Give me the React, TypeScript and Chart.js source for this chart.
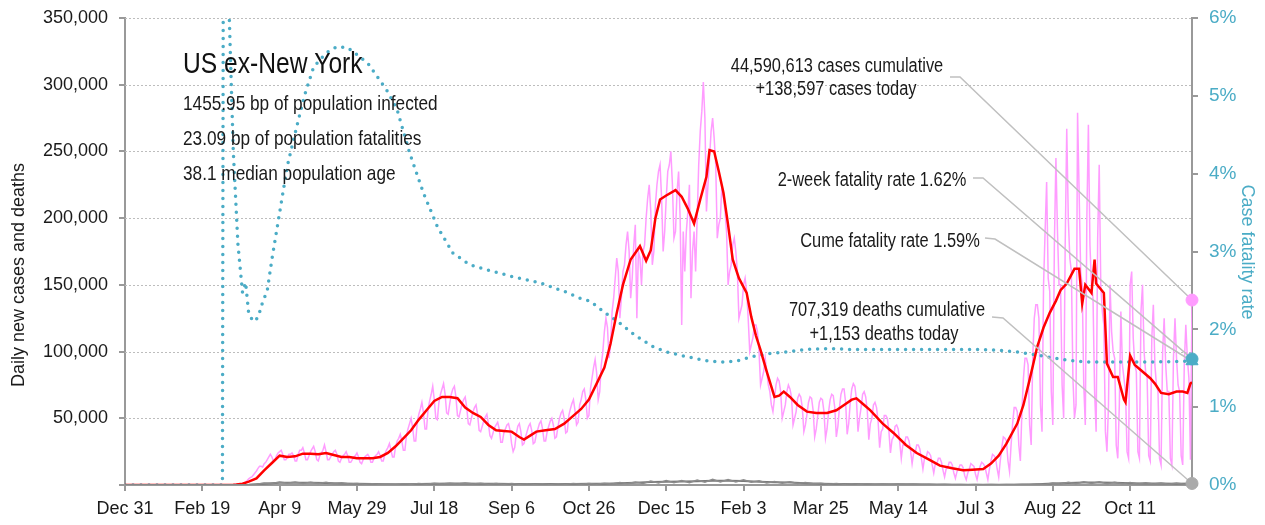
import React, { useEffect, useRef } from "react";
import { Chart, registerables } from "chart.js";

Chart.register(...registerables);

const FONT = '"Liberation Sans", Arial, sans-serif';
const NARROW = 0.82; // horizontal condensing for the headline/annotation text

// x axis: day index from Dec 31, 2019
const tickDays = [0, 50, 100, 150, 200, 250, 300, 350, 400, 450, 500, 550, 600, 650];
const tickLabels = ["Dec 31", "Feb 19", "Apr 9", "May 29", "Jul 18", "Sep 6", "Oct 26", "Dec 15", "Feb 3", "Mar 25", "May 14", "Jul 3", "Aug 22", "Oct 11"];
const yTicksStep = 50000;

// daily new cases, thousands (one row per week)
const casesDailyK = [
  0, 0, 0, 0, 0, 0, 0,
  0, 0, 0, 0, 0, 0, 0,
  0, 0, 0, 0, 0, 0, 0,
  0, 0, 0, 0, 0, 0, 0,
  0, 0, 0, 0, 0, 0, 0,
  0, 0, 0, 0, 0, 0, 0,
  0, 0, 0, 0, 0, 0, 0,
  0, 0, 0, 0, 0, 0, 0,
  0, 0, 0, 0, 0, 0, 0,
  0.02, 0.03, 0.05, 0.06, 0.08, 0.1, 0.15,
  0.2, 0.3, 0.4, 0.5, 0.7, 0.8, 1.0,
  1.5, 2.3, 3.4, 4.6, 5.5, 6, 7.5,
  9, 10.5, 12.5, 14, 14, 13.5, 16,
  17, 19, 21, 23, 21, 18, 19,
  22, 24, 25, 26, 23, 19, 19,
  21, 23, 23, 24, 22, 18, 18,
  23, 26, 26, 28, 24, 19, 19,
  22, 25, 27, 29, 25, 19, 18,
  22, 24, 26, 30, 25, 19, 19,
  21, 23, 25, 26, 23, 18, 17,
  20, 22, 23, 25, 22, 17, 17,
  19, 21, 22, 24, 21, 17, 16,
  19, 21, 22, 23, 21, 17, 17,
  20, 22, 23, 25, 22, 18, 18,
  23, 26, 28, 31, 26, 21, 21,
  29, 33, 35, 38, 33, 26, 26,
  37, 42, 46, 50, 43, 33, 33,
  47, 53, 57, 62, 54, 42, 42,
  57, 63, 68, 74, 64, 50, 49,
  62, 68, 72, 76, 68, 54, 53,
  61, 68, 72, 74, 66, 52, 51,
  56, 61, 64, 66, 58, 46, 45,
  50, 55, 58, 60, 53, 41, 40,
  44, 48, 51, 53, 46, 37, 35,
  39, 43, 45, 47, 42, 32, 32,
  39, 42, 45, 46, 41, 31, 25,
  28, 38, 44, 46, 40, 30, 31,
  36, 40, 44, 46, 41, 31, 32,
  38, 42, 46, 48, 42, 33, 33,
  40, 44, 48, 50, 45, 35, 36,
  44, 50, 54, 56, 50, 39, 40,
  52, 57, 61, 64, 56, 45, 47,
  60, 64, 70, 72, 64, 50, 52,
  72, 80, 88, 94, 84, 64, 70,
  90, 100, 115, 125, 118, 95, 105,
  130, 140, 155, 170, 160, 125, 140,
  160, 165, 180, 190, 175, 140, 155,
  180, 195, 125, 175, 170, 150, 175,
  180, 200, 215, 225, 205, 165, 175,
  210, 225, 235, 240, 215, 175, 190,
  215, 235, 240, 250, 225, 185, 190,
  220, 235, 200, 120, 190, 160, 190,
  205, 225, 140, 175, 190, 160, 200,
  240, 265, 280, 302, 275, 205, 225,
  245, 265, 275, 260, 240, 185, 195,
  200, 225, 215, 205, 190, 150, 160,
  165, 180, 185, 175, 160, 125, 130,
  135, 150, 155, 145, 125, 100, 105,
  110, 120, 120, 115, 100, 75, 80,
  85, 95, 85, 75, 70, 60, 55,
  65, 75, 80, 78, 70, 50, 55,
  60, 70, 75, 72, 66, 45, 50,
  55, 65, 68, 66, 58, 40, 45,
  53, 62, 66, 65, 56, 36, 42,
  52, 62, 65, 64, 55, 35, 42,
  55, 64, 68, 67, 58, 36, 44,
  58, 68, 72, 72, 62, 38, 46,
  62, 72, 76, 74, 64, 40, 50,
  58, 68, 70, 66, 56, 34, 46,
  50, 60, 62, 58, 48, 28, 40,
  42, 52, 52, 50, 40, 24, 34,
  36, 44, 45, 42, 32, 20, 30,
  30, 36, 36, 33, 26, 16, 24,
  24, 30, 30, 27, 20, 12, 20,
  20, 25, 24, 22, 15, 9, 16,
  16, 20, 20, 17, 11, 6, 12,
  13, 17, 17, 15, 9, 5, 10,
  12, 15, 15, 13, 7, 4, 9,
  12, 16, 15, 14, 8, 4, 10,
  14, 17, 16, 14, 9, 4, 12,
  18, 23, 22, 20, 12, 6, 18,
  28, 36, 35, 33, 18, 10, 30,
  46, 58, 58, 55, 30, 18, 55,
  80, 95, 95, 90, 45, 30, 95,
  125, 135, 135, 125, 60, 40, 150,
  190, 227, 155, 145, 70, 45, 180,
  245, 190, 150, 150, 75, 50, 180,
  267, 200, 170, 160, 80, 50, 60,
  279, 220, 160, 150, 75, 45, 200,
  270, 180, 150, 140, 70, 40, 185,
  240, 150, 130, 120, 40, 25, 60,
  150, 115, 100, 95, 30, 20, 60,
  130, 90, 80, 70, 25, 20, 150,
  160, 110, 90, 85, 25, 20, 130,
  150, 100, 85, 80, 22, 18, 110,
  135, 90, 75, 70, 20, 15, 100,
  125, 90, 70, 70, 20, 15, 95,
  125, 95, 75, 70, 22, 15, 90,
  120, 95, 80, 19, 138.597,
];

// 7-day average of new cases: [day, thousands]
const casesAvgK: [number, number][] = [
  [0, 0], [70, 0.2], [72, 0.3], [76, 1], [80, 2.5], [85, 5], [90, 11], [95, 16.5], [100, 22], [105, 21],
  [110, 21.5], [115, 23.5], [120, 23.5], [125, 23], [130, 24], [135, 22.5], [140, 21], [145, 21], [150, 20], [155, 20],
  [160, 20], [165, 21], [170, 24], [175, 29], [180, 35], [185, 41], [190, 49], [195, 56], [200, 63], [205, 66],
  [210, 66], [215, 65], [220, 58], [225, 54], [230, 51], [235, 45], [240, 41], [245, 40.5], [250, 40], [255, 36],
  [258, 34], [262, 37], [266, 40], [272, 41], [278, 42], [284, 46], [290, 52], [295, 57], [300, 64], [305, 76],
  [310, 88], [314, 106], [318, 129], [322, 150], [327, 169], [333, 179], [337, 168], [340, 176], [343, 200], [346, 214],
  [350, 217], [356, 221], [360, 216], [364, 207], [368, 196], [372, 214], [376, 231], [378, 251], [381, 250], [384, 235],
  [387, 219], [390, 195], [393, 169], [397, 155], [402, 144], [405, 126], [408, 112], [411, 101], [415, 85], [420, 66],
  [423, 67], [426, 70], [430, 66], [435, 60], [441, 55], [447, 54], [454, 54], [460, 56], [465, 60], [470, 64],
  [473, 65], [478, 60], [482, 56], [490, 46], [497, 39], [505, 30], [512, 24], [520, 19], [527, 14.5], [535, 12.5],
  [542, 11], [548, 11.5], [555, 12], [560, 16], [565, 22], [570, 31], [577, 46], [581, 60], [585, 79], [590, 104],
  [594, 118], [598, 129], [602, 138], [605, 146], [609, 151], [614, 162], [617, 162], [619, 136], [621, 150], [625, 144],
  [627, 169], [628, 151], [633, 144], [635, 91], [639, 81], [642, 81], [646, 64], [647, 62], [650, 97], [653, 90],
  [657, 86], [663, 80], [666, 76], [670, 69], [675, 68], [680, 70], [684, 70], [687, 69], [689, 76], [690, 77],
];

// daily deaths, thousands, one value every 5 days from day 0
const DEATH_STEP = 5;
const deathsDailyK = [
  0, 0, 0, 0, 0, 0, 0, 0, 0, 0, 0, 0, 0, 0,
  0.01, 0.05, 0.25, 0.5, 1.5, 1.2, 2.3, 1.3, 2.2, 1.2,
  2.1, 1.1, 2.0, 1.0, 1.6, 0.8, 1.2, 0.5, 1.0, 0.4,
  0.8, 0.4, 0.9, 0.5, 1.1, 0.6, 1.3, 0.7, 1.4, 0.7,
  1.5, 0.7, 1.3, 0.6, 1.2, 0.5, 1.1, 0.5, 1.0, 0.5,
  1.0, 0.45, 1.0, 0.5, 1.1, 0.5, 1.2, 0.55, 1.4, 0.7,
  1.8, 0.9, 2.3, 1.1, 3.0, 1.5, 3.3, 1.7, 3.4, 1.8,
  3.7, 2.0, 4.2, 2.3, 4.1, 2.2, 3.9, 2.0, 3.2, 1.6,
  2.6, 1.3, 2.4, 1.2, 1.9, 0.9, 1.4, 0.6, 1.1, 0.5,
  0.9, 0.45, 0.85, 0.4, 0.8, 0.35, 0.7, 0.35, 0.65, 0.3,
  0.55, 0.2, 0.4, 0.15, 0.35, 0.12, 0.3, 0.1, 0.3, 0.12,
  0.35, 0.15, 0.45, 0.2, 0.8, 0.4, 1.5, 0.7, 2.1, 0.9,
  2.4, 1.1, 2.4, 1.0, 2.1, 0.9, 1.9, 0.8, 1.6, 0.7,
  1.5, 0.6, 1.4, 0.6, 1.153,
];

// 7-day average deaths, thousands, one value every 10 days from day 0
const DEATH_AVG_STEP = 10;
const deathsAvgK = [
  0, 0, 0, 0, 0, 0, 0, 0.01, 0.2, 1.0,
  1.7, 1.75, 1.6, 1.5, 1.2, 0.9, 0.7, 0.6, 0.65, 0.8,
  0.95, 1.05, 1.1, 1.0, 0.9, 0.8, 0.75, 0.7, 0.72, 0.8,
  0.85, 1.0, 1.3, 1.7, 2.2, 2.5, 2.6, 2.8, 3.2, 3.2,
  3.0, 2.4, 2.0, 1.8, 1.4, 1.0, 0.8, 0.7, 0.65, 0.6,
  0.55, 0.5, 0.4, 0.3, 0.25, 0.22, 0.22, 0.25, 0.35, 0.6,
  1.1, 1.5, 1.8, 1.8, 1.6, 1.4, 1.2, 1.1, 1.0, 1.1,
];

// case fatality rate, percent: [day, pct]
const cfrPct: [number, number][] = [
  [0, 0], [63, 0], [64, 12], [66, 12], [67, 6.3], [70, 4.3], [73, 3.1], [76, 2.47], [78, 2.6], [80, 2.2],
  [83, 2.1], [86, 2.15], [89, 2.35], [92, 2.5], [95, 2.9], [100, 3.5], [105, 4.1], [111, 4.6], [116, 5.0], [122, 5.37],
  [130, 5.55], [137, 5.63], [144, 5.62], [150, 5.53], [157, 5.42], [163, 5.25], [170, 5.05], [176, 4.82], [184, 4.27], [193, 3.75],
  [202, 3.32], [212, 2.98], [223, 2.83], [235, 2.76], [250, 2.68], [268, 2.6], [285, 2.48], [294, 2.4], [301, 2.36], [310, 2.22],
  [320, 2.08], [330, 1.92], [342, 1.77], [352, 1.7], [363, 1.65], [375, 1.6], [385, 1.58], [395, 1.59], [406, 1.65], [417, 1.69],
  [428, 1.71], [440, 1.74], [450, 1.75], [460, 1.75], [469, 1.74], [480, 1.74], [500, 1.74], [520, 1.74], [540, 1.74], [555, 1.74],
  [565, 1.73], [577, 1.71], [583, 1.69], [590, 1.67], [598, 1.64], [607, 1.61], [615, 1.59], [624, 1.58], [640, 1.58], [660, 1.58],
  [690, 1.59],
];

const TODAY = 690;
const casesToday = 138597;
const deathsToday = 1153;
const cfr2Week = 1.62;
const cfrCume = 1.59;

const titleText = "US ex-New York";
const statLines = ["1455.95 bp of population infected", "23.09 bp of population fatalities", "38.1 median population age"];
const casesNote = ["44,590,613 cases cumulative", "+138,597 cases today"];
const twoWeekNote = ["2-week fatality rate 1.62%"];
const cumeNote = ["Cume fatality rate 1.59%"];
const deathsNote = ["707,319 deaths cumulative", "+1,153 deaths today"];
const yTitle = "Daily new cases and deaths";
const y1Title = "Case fatality rate";

const PINK = "#ff9cff";
const RED = "#ff0000";
const TEAL = "#4bacc6";
const GRAY = "#8c8c8c";
const AXIS = "#999999";
const LEADER = "#c0c0c0";
const TEXT = "#1a1a1a";

const LEADER_AFTER_INDEX = 4;

function narrowText(ctx: CanvasRenderingContext2D, text: string, x: number, y: number) {
  ctx.save();
  ctx.translate(x, y);
  ctx.scale(NARROW, 1);
  ctx.fillText(text, 0, 0);
  ctx.restore();
}

const overlayPlugin = {
  id: "overlay",
  beforeDatasetsDraw(chart: any) {
    const { ctx, chartArea, scales } = chart;
    const y = scales.y;
    ctx.save();
    ctx.strokeStyle = "#bdbdbd";
    ctx.lineWidth = 1;
    ctx.setLineDash([2, 2]);
    y.ticks.forEach((t: any) => {
      if (t.value === 0) return;
      const py = Math.round(y.getPixelForValue(t.value)) + 0.5;
      ctx.beginPath();
      ctx.moveTo(chartArea.left, py);
      ctx.lineTo(chartArea.right, py);
      ctx.stroke();
    });
    ctx.restore();
  },
  afterDatasetDraw(chart: any, args: any) {
    if (args.index !== LEADER_AFTER_INDEX) return;
    const { ctx, scales } = chart;
    const xs = scales.x, ys = scales.y, y1 = scales.y1;
    const ex = xs.getPixelForValue(TODAY);
    const leaders = [
      { sx: 950, sy: 77, mx: 960, my: 77, ty: ys.getPixelForValue(casesToday) },
      { sx: 973, sy: 178, mx: 983, my: 178, ty: y1.getPixelForValue(cfr2Week) },
      { sx: 985, sy: 238, mx: 995, my: 239, ty: y1.getPixelForValue(cfrCume) },
      { sx: 992, sy: 317, mx: 1003, my: 318, ty: ys.getPixelForValue(deathsToday) },
    ];
    ctx.save();
    ctx.strokeStyle = LEADER;
    ctx.lineWidth = 1.5;
    leaders.forEach((l) => {
      ctx.beginPath();
      ctx.moveTo(l.sx, l.sy);
      ctx.lineTo(l.mx, l.my);
      ctx.lineTo(ex, l.ty);
      ctx.stroke();
    });
    ctx.restore();
  },
  afterDraw(chart: any) {
    const { ctx } = chart;
    ctx.save();
    ctx.fillStyle = "#111";
    ctx.textAlign = "left";
    ctx.textBaseline = "alphabetic";
    ctx.font = `30px ${FONT}`;
    narrowText(ctx, titleText, 183, 73);
    ctx.fillStyle = TEXT;
    ctx.font = `21px ${FONT}`;
    [110, 145, 180].forEach((by, i) => narrowText(ctx, statLines[i], 183, by));

    ctx.font = `20px ${FONT}`;
    ctx.textAlign = "center";
    narrowText(ctx, casesNote[0], 837, 72);
    narrowText(ctx, casesNote[1], 836, 95);
    narrowText(ctx, twoWeekNote[0], 872, 186);
    narrowText(ctx, cumeNote[0], 890, 247);
    narrowText(ctx, deathsNote[0], 887, 316);
    narrowText(ctx, deathsNote[1], 884, 340);

    ctx.textBaseline = "middle";
    ctx.font = `18px ${FONT}`;
    ctx.save();
    ctx.translate(19, 275);
    ctx.rotate(-Math.PI / 2);
    ctx.fillText(yTitle, 0, 0);
    ctx.restore();

    ctx.save();
    ctx.fillStyle = TEAL;
    ctx.translate(1247, 252);
    ctx.rotate(Math.PI / 2);
    ctx.fillText(y1Title, 0, 0);
    ctx.restore();
    ctx.restore();
  },
};

export default function App() {
  const ref = useRef<HTMLCanvasElement>(null);

  useEffect(() => {
    const canvas = ref.current;
    if (!canvas) return;
    const tickFont = { family: FONT, size: 18 };

    const chart = new Chart(canvas, {
      type: "line",
      data: {
        datasets: [
          {
            label: "cases today",
            data: [{ x: TODAY, y: casesToday }],
            yAxisID: "y",
            showLine: false,
            pointRadius: 6,
            pointBackgroundColor: PINK,
            pointBorderColor: PINK,
            clip: false,
            order: 0,
          },
          {
            label: "2-week fatality",
            data: [{ x: TODAY, y: cfr2Week }],
            yAxisID: "y1",
            showLine: false,
            pointRadius: 6,
            pointBackgroundColor: TEAL,
            pointBorderColor: TEAL,
            clip: false,
            order: 0,
          },
          {
            label: "cume fatality",
            data: [{ x: TODAY, y: cfrCume }],
            yAxisID: "y1",
            showLine: false,
            pointStyle: "triangle",
            pointRadius: 7,
            pointBackgroundColor: TEAL,
            pointBorderColor: TEAL,
            clip: false,
            order: 0,
          },
          {
            label: "deaths today",
            data: [{ x: TODAY, y: deathsToday }],
            yAxisID: "y",
            showLine: false,
            pointRadius: 6,
            pointBackgroundColor: "#aaaaaa",
            pointBorderColor: "#aaaaaa",
            clip: false,
            order: 0,
          },
          {
            label: "daily deaths",
            data: deathsDailyK.map((v, i) => ({ x: i * DEATH_STEP, y: v * 1000 })),
            yAxisID: "y",
            borderColor: GRAY,
            borderWidth: 1.5,
            pointRadius: 0,
            order: 1,
          },
          {
            label: "deaths 7d",
            data: deathsAvgK.map((v, i) => ({ x: i * DEATH_AVG_STEP, y: v * 1000 })),
            yAxisID: "y",
            borderColor: "#7a7a7a",
            borderWidth: 2,
            pointRadius: 0,
            order: 1,
          },
          {
            label: "cases 7d",
            data: casesAvgK.map(([d, v]) => ({ x: d, y: v * 1000 })),
            yAxisID: "y",
            borderColor: RED,
            borderWidth: 2.5,
            pointRadius: 0,
            order: 2,
          },
          {
            label: "CFR",
            data: cfrPct.map(([d, v]) => ({ x: d, y: v })),
            yAxisID: "y1",
            borderColor: TEAL,
            borderWidth: 3.5,
            borderDash: [0, 8],
            borderCapStyle: "round",
            pointRadius: 0,
            order: 3,
          },
          {
            label: "daily cases",
            data: casesDailyK.map((v, i) => ({ x: i, y: v * 1000 })),
            yAxisID: "y",
            borderColor: PINK,
            borderWidth: 1.5,
            pointRadius: 0,
            order: 4,
          },
        ],
      },
      options: {
        responsive: false,
        animation: false,
        events: [],
        layout: { padding: { top: 18, left: 0, right: 0, bottom: 0 } },
        elements: { line: { tension: 0 } },
        plugins: { legend: { display: false }, tooltip: { enabled: false } },
        scales: {
          x: {
            type: "linear",
            min: 0,
            max: TODAY,
            afterBuildTicks: (s: any) => {
              s.ticks = tickDays.map((v) => ({ value: v }));
            },
            afterFit: (s: any) => {
              s.height = 40;
              s.paddingLeft = 0;
              s.paddingRight = 0;
            },
            ticks: {
              autoSkip: false,
              maxRotation: 0,
              color: TEXT,
              font: tickFont,
              padding: 7,
              callback: (_v: any, i: number) => tickLabels[i] ?? "",
            },
            grid: { drawOnChartArea: false, drawTicks: true, tickLength: 6, color: AXIS, lineWidth: 2 },
            border: { color: AXIS, width: 2 },
          },
          y: {
            type: "linear",
            position: "left",
            min: 0,
            max: 350000,
            afterFit: (s: any) => {
              s.width = 125;
              s.paddingTop = 0;
              s.paddingBottom = 0;
            },
            ticks: {
              stepSize: yTicksStep,
              color: TEXT,
              font: tickFont,
              padding: 11,
              callback: (v: any) => (Number(v) === 0 ? "" : Number(v).toLocaleString("en-US")),
            },
            grid: { drawOnChartArea: false, drawTicks: true, tickLength: 6, color: AXIS, lineWidth: 2 },
            border: { color: AXIS, width: 2 },
          },
          y1: {
            type: "linear",
            position: "right",
            min: 0,
            max: 6,
            afterFit: (s: any) => {
              s.width = 73;
              s.paddingTop = 0;
              s.paddingBottom = 0;
            },
            ticks: {
              stepSize: 1,
              color: TEAL,
              font: { family: FONT, size: 19 },
              padding: 11,
              callback: (v: any) => `${v}%`,
            },
            grid: { drawOnChartArea: false, drawTicks: true, tickLength: 6, color: AXIS, lineWidth: 2 },
            border: { color: AXIS, width: 2 },
          },
        },
      } as any,
      plugins: [overlayPlugin],
    } as any);

    return () => chart.destroy();
  }, []);

  return (
    <div style={{ position: "absolute", left: 0, top: 0, width: 1265, height: 525, background: "#fff" }}>
      <canvas ref={ref} width={1265} height={525} style={{ display: "block", width: 1265, height: 525 }} />
    </div>
  );
}
